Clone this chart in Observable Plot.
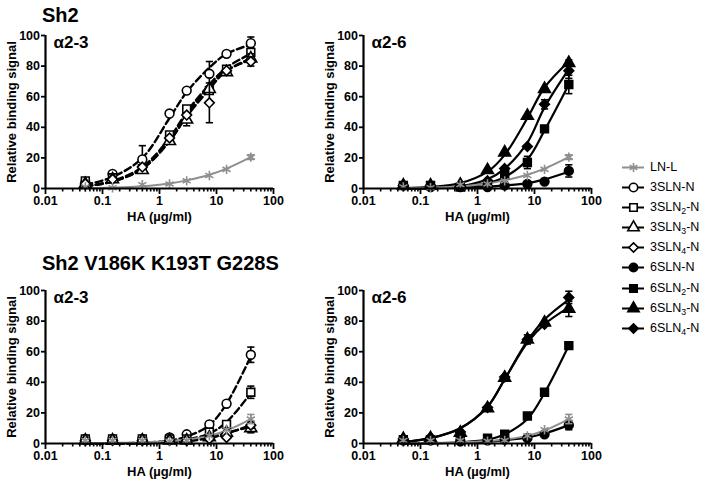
<!DOCTYPE html>
<html><head><meta charset="utf-8">
<script src="https://cdn.jsdelivr.net/npm/d3@7"></script>
<script src="https://cdn.jsdelivr.net/npm/@observablehq/plot@0.6"></script>
<style>
body{margin:0;background:#fff;width:703px;height:481px;overflow:hidden;position:relative;font-family:Arial,"Liberation Sans",Helvetica,sans-serif;}
.panel{position:absolute;}
.title{position:absolute;font-weight:bold;font-size:20px;line-height:1;white-space:nowrap;}
#legend{position:absolute;left:622px;top:156.5px;}
.row{display:flex;align-items:center;height:20.16px;font-size:12.5px;white-space:nowrap;}
.row span{margin-left:6px;}
.row svg{display:block;}
sub{font-size:0.7em;vertical-align:-0.3em;line-height:0;}
</style></head><body>
<div class="title" style="left:42px;top:5px;">Sh2</div>
<div class="title" style="left:42px;top:253px;">Sh2 V186K K193T G228S</div>
<div id="legend"></div>
<script>
// ---------- data ----------
const conc = [0.05, 0.15, 0.5, 1.5, 3, 7.5, 15, 40];
const xMajor = [0.01, 0.1, 1, 10, 100];
const xMinorFactors = [2, 3, 4, 5, 6, 7, 8, 9];
const yTicks = [0, 20, 40, 60, 80, 100];
const seriesNames = ["LN-L", "3SLN-N", "3SLN2-N", "3SLN3-N", "3SLN4-N", "6SLN-N", "6SLN2-N", "6SLN3-N", "6SLN4-N"];
const legendLabels = ["LN-L", "3SLN-N", "3SLN<sub>2</sub>-N", "3SLN<sub>3</sub>-N", "3SLN<sub>4</sub>-N", "6SLN-N", "6SLN<sub>2</sub>-N", "6SLN<sub>3</sub>-N", "6SLN<sub>4</sub>-N"];
const panelLabels = ["α2-3", "α2-6", "α2-3", "α2-6"];

// Sh2
const sh2_LNL_mean = [1, 0.5, 2.5, 3, 5, 8.5, 12.5, 20.5];
const sh2_LNL_sd   = [0, 0, 0, 0, 0, 0, 0, 1.5];
const sh2_LNL_fit  = [0.2, 0.6, 1.5, 3.3, 5.3, 9, 13, 20.5];
const sh2_3SLN_mean  = [4, 9.5, 19, 49, 64, 75, 88, 95];
const sh2_3SLN_sd    = [0, 1, 9, 0, 0, 8, 0, 4];
const sh2_3SLN_fit   = [2.5, 7.5, 20, 46, 63, 79, 88, 94];
const sh2_3SLN2_mean = [5, 7, 13, 35, 52, 64, 78, 89];
const sh2_3SLN2_sd   = [0, 0, 0, 0, 2, 0, 0, 3];
const sh2_3SLN2_fit  = [1.5, 5, 14, 33, 50, 68, 79, 88];
const sh2_3SLN3_mean = [3, 6, 12, 31, 45, 65, 76, 85];
const sh2_3SLN3_sd   = [0, 0, 0, 0, 4, 0, 0, 3];
const sh2_3SLN3_fit  = [1.5, 4.5, 13, 31, 48, 67, 77, 85];
const sh2_3SLN4_mean = [3, 6, 14, 33, 48, 56, 77, 83];
const sh2_3SLN4_sd   = [0, 0, 0, 0, 0, 13, 0, 3];
const sh2_3SLN4_fit  = [1.5, 4.5, 13, 31, 47, 65, 77, 84];
const sh2_6SLN_mean  = [2, 1, 1, 1, 2, 3, 4.5, 11.5];
const sh2_6SLN_sd    = [0, 0, 0, 0, 0, 0, 0, 4];
const sh2_6SLN_fit   = [0.1, 0.2, 0.5, 1.2, 2, 3.5, 6, 11];
const sh2_6SLN2_mean = [2, 2, 1, 3, 9, 17, 39, 68];
const sh2_6SLN2_sd   = [0, 0, 0, 0, 0, 4, 0, 6];
const sh2_6SLN2_fit  = [0.1, 0.3, 1, 3.5, 7.5, 19, 38, 68];
const sh2_6SLN3_mean = [2, 2, 2.5, 12, 23.5, 47.5, 65, 82];
const sh2_6SLN3_sd   = [0, 0, 0, 0, 0, 0, 0, 2];
const sh2_6SLN3_fit  = [0.3, 1, 3.5, 11, 22, 46, 66, 83];
const sh2_6SLN4_mean = [2, 2, 1.5, 5, 13, 27.5, 55, 77];
const sh2_6SLN4_sd   = [0, 0, 0, 0, 0, 0, 3, 5];
const sh2_6SLN4_fit  = [0.1, 0.5, 1.5, 6, 13, 30, 53, 78];

// Sh2 V186K K193T G228S
const mut_LNL_mean = [2, 2, 2, 1.5, 2, 5, 9, 16];
const mut_LNL_sd   = [0, 0, 0, 0, 0, 0, 0, 3];
const mut_LNL_fit  = [0.2, 0.4, 0.8, 1.6, 2.6, 5, 8.5, 16];
const mut_3SLN_mean  = [3, 3, 3, 4, 6, 12.5, 26, 58];
const mut_3SLN_sd    = [0, 0, 0, 0, 0, 0, 0, 5];
const mut_3SLN_fit   = [0, 0.1, 0.5, 2, 4.5, 12, 26, 57];
const mut_3SLN2_mean = [3, 3, 3, 3, 3, 7.5, 12.5, 33.5];
const mut_3SLN2_sd   = [0, 0, 0, 0, 0, 0, 0, 4];
const mut_3SLN2_fit  = [0, 0, 0.3, 1, 2.5, 6.5, 14, 33];
const mut_3SLN3_mean = [2, 2, 2, 2, 2, 4, 7, 10];
const mut_3SLN3_sd   = [0, 0, 0, 0, 0, 0, 0, 3];
const mut_3SLN3_fit  = [0, 0, 0.2, 0.8, 1.8, 4, 7, 11];
const mut_3SLN4_mean = [2, 2, 2, 2, 2, 3, 4, 12];
const mut_3SLN4_sd   = [0, 0, 0, 0, 0, 0, 0, 2];
const mut_3SLN4_fit  = [0, 0, 0.2, 0.7, 1.5, 3.5, 6.5, 12];
const mut_6SLN_mean  = [2, 2, 1.5, 2, 2.5, 3.5, 6, 12];
const mut_6SLN_sd    = [0, 0, 0, 0, 0, 0, 0, 3];
const mut_6SLN_fit   = [0, 0.2, 0.5, 1.2, 2.2, 4, 6.5, 12];
const mut_6SLN2_mean = [2.5, 2.5, 3, 3.5, 6, 18, 33.5, 64];
const mut_6SLN2_sd   = [0, 0, 0, 0, 0, 2, 0, 0];
const mut_6SLN2_fit  = [0, 0.2, 0.8, 2.5, 6, 16, 33, 64];
const mut_6SLN3_mean = [3, 3.5, 7, 23, 43, 68, 79, 88];
const mut_6SLN3_sd   = [0, 0, 0, 0, 0, 3, 0, 5];
const mut_6SLN3_fit  = [1, 3.5, 10, 24, 42, 66, 78, 89];
const mut_6SLN4_mean = [3, 4, 7.5, 23.5, 43.5, 68, 78, 95.5];
const mut_6SLN4_sd   = [0, 0, 0, 0, 0, 0, 0, 4];
const mut_6SLN4_fit  = [1, 3.5, 10, 24, 42, 67, 81, 94];

// ---------- styles ----------
const GRAY = "#8f8f8f";
const styles = {
  "LN-L":    {symbol: "asterisk", fill: "none",  stroke: GRAY,    lw: 2,   dash: undefined},
  "3SLN-N":  {symbol: "circle",   fill: "white", stroke: "black", lw: 2.4, dash: "7,3.5"},
  "3SLN2-N": {symbol: "square",   fill: "white", stroke: "black", lw: 2.4, dash: "7,3.5"},
  "3SLN3-N": {symbol: "triangle", fill: "white", stroke: "black", lw: 2.4, dash: "7,3.5"},
  "3SLN4-N": {symbol: "diamond2", fill: "white", stroke: "black", lw: 2.4, dash: "7,3.5"},
  "6SLN-N":  {symbol: "circle",   fill: "black", stroke: "black", lw: 2.2, dash: undefined},
  "6SLN2-N": {symbol: "square",   fill: "black", stroke: "black", lw: 2.2, dash: undefined},
  "6SLN3-N": {symbol: "triangle", fill: "black", stroke: "black", lw: 2.2, dash: undefined},
  "6SLN4-N": {symbol: "diamond2", fill: "black", stroke: "black", lw: 2.2, dash: undefined}
};
const capSymbol = {draw(ctx, size) { const w = Math.sqrt(size / Math.PI); ctx.moveTo(-w, 0); ctx.lineTo(w, 0); }};
const FONT = "Arial, 'Liberation Sans', Helvetica, sans-serif";

const panels = [
  {left: 0, top: 0, label: panelLabels[0], series: [
    ["3SLN-N", sh2_3SLN_mean, sh2_3SLN_sd, sh2_3SLN_fit],
    ["3SLN2-N", sh2_3SLN2_mean, sh2_3SLN2_sd, sh2_3SLN2_fit],
    ["3SLN3-N", sh2_3SLN3_mean, sh2_3SLN3_sd, sh2_3SLN3_fit],
    ["3SLN4-N", sh2_3SLN4_mean, sh2_3SLN4_sd, sh2_3SLN4_fit],
    ["LN-L", sh2_LNL_mean, sh2_LNL_sd, sh2_LNL_fit]]},
  {left: 318, top: 0, label: panelLabels[1], series: [
    ["6SLN-N", sh2_6SLN_mean, sh2_6SLN_sd, sh2_6SLN_fit],
    ["6SLN2-N", sh2_6SLN2_mean, sh2_6SLN2_sd, sh2_6SLN2_fit],
    ["6SLN3-N", sh2_6SLN3_mean, sh2_6SLN3_sd, sh2_6SLN3_fit],
    ["6SLN4-N", sh2_6SLN4_mean, sh2_6SLN4_sd, sh2_6SLN4_fit],
    ["LN-L", sh2_LNL_mean, sh2_LNL_sd, sh2_LNL_fit]]},
  {left: 0, top: 255, label: panelLabels[2], series: [
    ["3SLN-N", mut_3SLN_mean, mut_3SLN_sd, mut_3SLN_fit],
    ["3SLN2-N", mut_3SLN2_mean, mut_3SLN2_sd, mut_3SLN2_fit],
    ["3SLN3-N", mut_3SLN3_mean, mut_3SLN3_sd, mut_3SLN3_fit],
    ["3SLN4-N", mut_3SLN4_mean, mut_3SLN4_sd, mut_3SLN4_fit],
    ["LN-L", mut_LNL_mean, mut_LNL_sd, mut_LNL_fit]]},
  {left: 318, top: 255, label: panelLabels[3], series: [
    ["6SLN-N", mut_6SLN_mean, mut_6SLN_sd, mut_6SLN_fit],
    ["6SLN2-N", mut_6SLN2_mean, mut_6SLN2_sd, mut_6SLN2_fit],
    ["6SLN3-N", mut_6SLN3_mean, mut_6SLN3_sd, mut_6SLN3_fit],
    ["6SLN4-N", mut_6SLN4_mean, mut_6SLN4_sd, mut_6SLN4_fit],
    ["LN-L", mut_LNL_mean, mut_LNL_sd, mut_LNL_fit]]}
];

const xMinor = xMajor.slice(0, -1).flatMap(d => xMinorFactors.map(k => d * k));

function makePanel(def) {
  const rows = def.series.map(([name, mean, sd, fit]) => ({
    name, pts: conc.map((c, i) => ({c, v: mean[i], e: sd[i], f: fit[i]}))
  }));
  const marks = [];
  for (const r of rows) {
    const s = styles[r.name];
    marks.push(Plot.line(r.pts, {x: "c", y: "f", curve: "catmull-rom", stroke: s.stroke, strokeWidth: s.lw, strokeDasharray: s.dash}));
  }
  for (const r of rows) {
    const s = styles[r.name];
    const eb = r.pts.filter(d => d.e > 0);
    marks.push(Plot.ruleX(eb, {x: "c", y1: d => Math.max(0, d.v - d.e), y2: d => d.v + d.e, stroke: s.stroke, strokeWidth: 1.6}));
    marks.push(Plot.dot(eb, {x: "c", y: d => d.v + d.e, symbol: capSymbol, r: 3.6, stroke: s.stroke, strokeWidth: 1.6}));
    marks.push(Plot.dot(eb.filter(d => d.v - d.e > 0), {x: "c", y: d => d.v - d.e, symbol: capSymbol, r: 3.6, stroke: s.stroke, strokeWidth: 1.6}));
    marks.push(Plot.dot(r.pts, {x: "c", y: "v", symbol: s.symbol, r: 4.4, fill: s.fill, stroke: s.stroke, strokeWidth: 1.6}));
  }
  marks.push(
    Plot.axisX(xMinor, {tickSize: 3.5, tickFormat: () => "", label: null, strokeWidth: 1.6}),
    Plot.axisX(xMajor, {tickSize: 6, tickPadding: 2, tickFormat: d => String(d), label: null, strokeWidth: 1.8, fontSize: 12.5, fontWeight: "bold"}),
    Plot.axisY(yTicks, {tickSize: 4, tickPadding: 1.5, label: null, strokeWidth: 1.8, fontSize: 12.5, fontWeight: "bold"}),
    Plot.ruleY([0], {strokeWidth: 2.2}),
    Plot.ruleX([0.01], {strokeWidth: 2.2}),
    Plot.text([def.label], {frameAnchor: "top-left", dx: 8, lineAnchor: "top", textAnchor: "start", fontSize: 17, fontWeight: "bold"}),
    Plot.text(["Relative binding signal"], {frameAnchor: "left", rotate: -90, dx: -34, textAnchor: "middle", lineAnchor: "middle", fontSize: 13, fontWeight: "bold"}),
    Plot.text(["HA (µg/ml)"], {frameAnchor: "bottom", dy: 23, textAnchor: "middle", lineAnchor: "top", fontSize: 13, fontWeight: "bold"})
  );
  const svg = Plot.plot({
    width: 290, height: 230,
    marginLeft: 45, marginRight: 17, marginTop: 35, marginBottom: 42,
    x: {type: "log", domain: [0.01, 100], label: null},
    y: {domain: [0, 100], label: null},
    style: {fontFamily: FONT, fontSize: "12.5px", fontWeight: "bold", background: "transparent", overflow: "visible", color: "black"},
    marks
  });
  svg.classList.add("panel");
  svg.style.position = "absolute";
  svg.style.left = def.left + "px";
  svg.style.top = def.top + "px";
  document.body.appendChild(svg);
}
panels.forEach(makePanel);

// legend
const legend = document.getElementById("legend");
seriesNames.forEach((name, i) => {
  const s = styles[name];
  const row = document.createElement("div");
  row.className = "row";
  const sym = Plot.plot({
    width: 22, height: 18, margin: 0,
    x: {domain: [-1, 1], axis: null}, y: {domain: [-1, 1], axis: null},
    style: {background: "transparent", overflow: "visible"},
    marks: [
      Plot.ruleY([0], {stroke: s.stroke, strokeWidth: 2}),
      Plot.dot([0], {x: 0, y: 0, symbol: s.symbol, r: 4.2, fill: s.fill, stroke: s.stroke, strokeWidth: 1.6})
    ]
  });
  row.appendChild(sym);
  const t = document.createElement("span");
  t.innerHTML = legendLabels[i];
  row.appendChild(t);
  legend.appendChild(row);
});
</script>
</body></html>
